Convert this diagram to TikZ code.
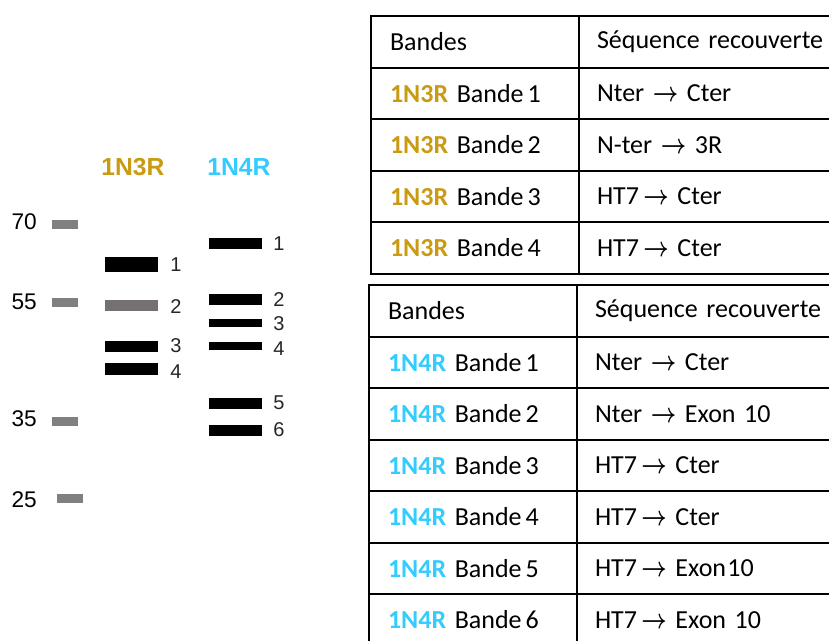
\documentclass[tikz,border=0pt]{standalone}
\usepackage{amsmath}
\usepackage{amssymb}
\usepackage{graphicx}
\usepackage{fontspec}
\setmainfont{Carlito}
\newfontfamily\gelfont{Liberation Sans}
\usetikzlibrary{positioning}
\definecolor{gold3r}{RGB}{201,155,18}
\definecolor{cyan4r}{RGB}{51,204,255}
\definecolor{markergray}{RGB}{128,128,128}
\definecolor{bandgray}{RGB}{118,113,113}
\newcommand{\tagNthree}{{\bfseries\color{gold3r}1N3R}}
\newcommand{\tagNfour}{{\bfseries\color{cyan4r}1N4R}}
\newcommand{\bandeno}[1]{Bande\hspace{0.15em}#1}
\newcommand{\seqto}{\scalebox{0.8}[1]{\fontsize{21}{21}\selectfont$\boldsymbol{\rightarrow}$}}

\begin{document}
\begin{tikzpicture}[x=0.75pt,y=-0.75pt,
  bandbar/.style={rectangle,fill=#1,inner sep=0pt,minimum width=39.75pt},
  marker/.style={rectangle,fill=markergray,inner sep=0pt,minimum width=19.5pt,minimum height=6.75pt},
  mwlab/.style={anchor=east,inner sep=0pt,font=\gelfont\fontsize{17}{20}\selectfont},
  bandlab/.style={anchor=west,inner sep=0pt,text=black!85,font=\gelfont\fontsize{15}{18}\selectfont},
  lanetitle/.style={inner sep=0pt,text=#1,font=\gelfont\bfseries\fontsize{18.5}{22}\selectfont},
  cellA/.style={rectangle,draw,line width=1.5pt,minimum height=38.625pt,text width=127.5pt,inner xsep=14.25pt,inner ysep=0pt,align=left,font=\fontsize{19.5}{23}\selectfont},
  cellB/.style={rectangle,draw,line width=1.5pt,minimum height=38.625pt,text width=175.5pt,inner xsep=13.5pt,inner ysep=0pt,align=left,font=\fontsize{19.5}{23}\selectfont},
]
\useasboundingbox (0,0) rectangle (829,640);
\clip (0,0) rectangle (829,640);

% === MARKER LADDER ===
\node[marker] (m70) at (65,224) {};
\node[marker] (m55) at (65,302) {};
\node[marker] (m35) at (65,421.5) {};
\node[marker] (m25) at (70,498.5) {};
\node[mwlab] (l70) at (37,222) {70};
\node[mwlab] (l55) at (37,302) {55};
\node[mwlab] (l35) at (37,419) {35};
\node[mwlab] (l25) at (37,500) {25};

% === LANE 1N3R ===
\node[lanetitle=gold3r] (t3r) at (133,167) {1N3R};
\node[bandbar=black,minimum height=11.25pt] (g3r1) at (131.5,264.5) {};
\node[bandbar=bandgray,minimum height=8.25pt] (g3r2) at (131.5,305) {};
\node[bandbar=black,minimum height=8.25pt] (g3r3) at (131.5,346.5) {};
\node[bandbar=black,minimum height=9pt] (g3r4) at (131.5,369) {};
\node[bandlab] (n3r1) at (170,265) {1};
\node[bandlab] (n3r2) at (170,307) {2};
\node[bandlab] (n3r3) at (170,346) {3};
\node[bandlab] (n3r4) at (170,372) {4};

% === LANE 1N4R ===
\node[lanetitle=cyan4r] (t4r) at (239,167) {1N4R};
\node[bandbar=black,minimum height=8.25pt] (g4r1) at (235.5,243.5) {};
\node[bandbar=black,minimum height=8.25pt] (g4r2) at (235.5,299.5) {};
\node[bandbar=black,minimum height=6pt] (g4r3) at (235.5,323) {};
\node[bandbar=black,minimum height=6pt] (g4r4) at (235.5,346) {};
\node[bandbar=black,minimum height=8.25pt] (g4r5) at (235.5,403.5) {};
\node[bandbar=black,minimum height=8.25pt] (g4r6) at (235.5,430.5) {};
\node[bandlab] (n4r1) at (273,244) {1};
\node[bandlab] (n4r2) at (273,300) {2};
\node[bandlab] (n4r3) at (273,324) {3};
\node[bandlab] (n4r4) at (273,349) {4};
\node[bandlab] (n4r5) at (273,403) {5};
\node[bandlab] (n4r6) at (273,430) {6};

% === TABLE 1N3R ===
\node[cellA] (h3rA) at (475,41.75) {Bandes};
\node[cellB] (h3rB) at (714,41.75) {Séquence recouverte};
\node[cellA] (r3rA1) at (475,93.25) {\tagNthree{} \bandeno{1}};
\node[cellB] (r3rB1) at (714,93.25) {Nter \seqto{} Cter};
\node[cellA] (r3rA2) at (475,144.75) {\tagNthree{} \bandeno{2}};
\node[cellB] (r3rB2) at (714,144.75) {N-ter \seqto{} 3R};
\node[cellA] (r3rA3) at (475,196.25) {\tagNthree{} \bandeno{3}};
\node[cellB] (r3rB3) at (714,196.25) {HT7\,\seqto{} Cter};
\node[cellA] (r3rA4) at (475,247.75) {\tagNthree{} \bandeno{4}};
\node[cellB] (r3rB4) at (714,247.75) {HT7\,\seqto{} Cter};

% === TABLE 1N4R ===
\node[cellA] (h4rA) at (473,310.75) {Bandes};
\node[cellB] (h4rB) at (712,310.75) {Séquence recouverte};
\node[cellA] (r4rA1) at (473,362.25) {\tagNfour{} \bandeno{1}};
\node[cellB] (r4rB1) at (712,362.25) {Nter \seqto{} Cter};
\node[cellA] (r4rA2) at (473,413.75) {\tagNfour{} \bandeno{2}};
\node[cellB] (r4rB2) at (712,413.75) {Nter \seqto{} Exon 10};
\node[cellA] (r4rA3) at (473,465.25) {\tagNfour{} \bandeno{3}};
\node[cellB] (r4rB3) at (712,465.25) {HT7\,\seqto{} Cter};
\node[cellA] (r4rA4) at (473,516.75) {\tagNfour{} \bandeno{4}};
\node[cellB] (r4rB4) at (712,516.75) {HT7\,\seqto{} Cter};
\node[cellA] (r4rA5) at (473,568.25) {\tagNfour{} \bandeno{5}};
\node[cellB] (r4rB5) at (712,568.25) {HT7\,\seqto{} Exon\hspace{0.05em}10};
\node[cellA] (r4rA6) at (473,619.75) {\tagNfour{} \bandeno{6}};
\node[cellB] (r4rB6) at (712,619.75) {HT7\,\seqto{} Exon 10};

\end{tikzpicture}
\end{document}
